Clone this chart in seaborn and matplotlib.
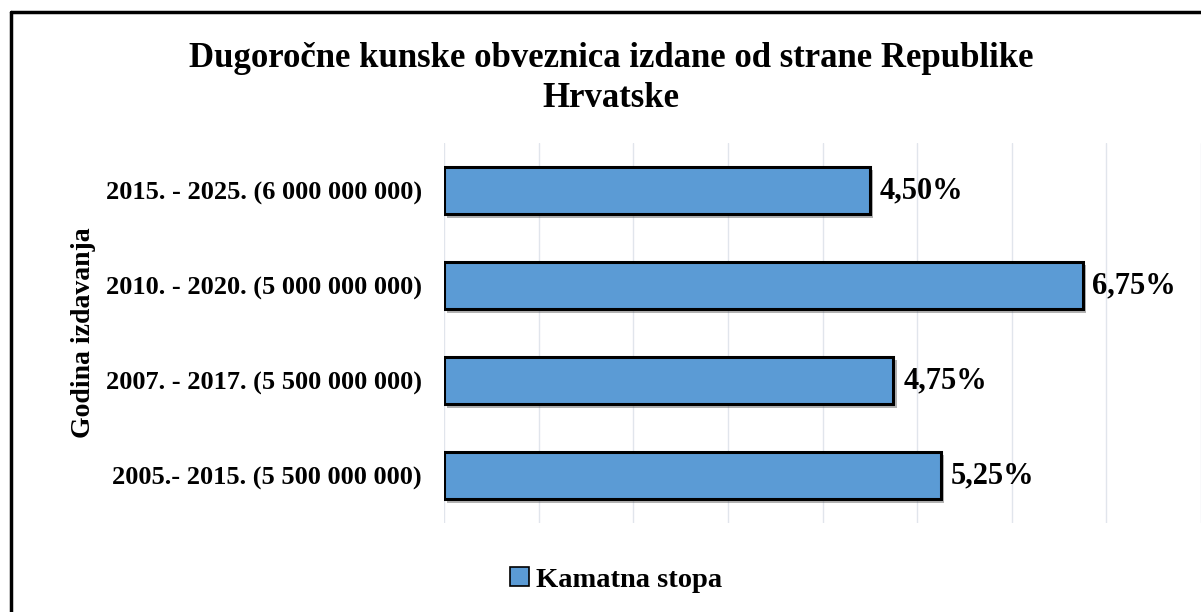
import matplotlib.pyplot as plt
import matplotlib.patheffects as pe
import pandas as pd
import seaborn as sns
from matplotlib.lines import Line2D
from matplotlib.patches import Patch

PERIODS = [
    "2015. - 2025. (6 000 000 000)",
    "2010. - 2020. (5 000 000 000)",
    "2007. - 2017. (5 500 000 000)",
    "2005.- 2015. (5 500 000 000)",
]
RATES = [4.50, 6.75, 4.75, 5.25]
RATE_LABELS = ["4,50%", "6,75%", "4,75%", "5,25%"]

TITLE = "Dugoročne kunske obveznica izdane od strane Republike\nHrvatske"
SERIES = "Kamatna stopa"
BAR_COLOR = "#5B9BD5"


def main() -> None:
    df = pd.DataFrame({"period": PERIODS, "rate": RATES})

    sns.set_style("white")
    plt.rcParams["font.family"] = ["Liberation Serif", "DejaVu Serif"]
    plt.rcParams["font.weight"] = "bold"
    plt.rcParams["text.color"] = "black"
    plt.rcParams["axes.labelcolor"] = "black"
    plt.rcParams["ytick.color"] = "black"

    fig = plt.figure(figsize=(12.01, 6.12), dpi=100)
    ax = fig.add_axes([0.3697, 0.1454, 0.6303, 0.6209])

    sns.barplot(data=df, x="rate", y="period", orient="h", color=BAR_COLOR,
                width=0.5, edgecolor="black", linewidth=2.2, saturation=1, ax=ax)

    # drop shadow like the office chart
    for bar in ax.patches:
        bar.set_path_effects([
            pe.SimplePatchShadow(offset=(2.5, -2.5), shadow_rgbFace="#555555", alpha=0.45),
            pe.Normal(),
        ])

    ax.bar_label(ax.containers[0], labels=RATE_LABELS, padding=7,
                 fontsize=22, fontweight="bold", color="black")

    ax.set_xlim(0, 8)
    ax.set_ylim(3.5, -0.5)
    ax.set_xticks(range(0, 9))
    ax.set_xticklabels([])
    ax.tick_params(axis="x", length=0)
    ax.tick_params(axis="y", length=0, pad=16, labelsize=19)
    for lbl in ax.get_yticklabels():
        lbl.set_fontweight("bold")
    ax.grid(axis="x", color="#e1e5ec", linewidth=1)
    ax.set_axisbelow(True)
    for sp in ax.spines.values():
        sp.set_visible(False)

    ax.set_xlabel("")
    ax.set_ylabel("Godina izdavanja", fontsize=20, fontweight="bold", labelpad=7)

    fig.suptitle(TITLE, x=0.509, y=0.932, fontsize=25, fontweight="bold",
                 linespacing=1.3, va="top")

    handle = Patch(facecolor=BAR_COLOR, edgecolor="black", linewidth=1.2)
    fig.legend([handle], [SERIES], loc="center", bbox_to_anchor=(0.513, 0.052),
               frameon=False, prop={"size": 20.5, "weight": "bold"},
               handlelength=0.65, handleheight=0.65, handletextpad=0.25)

    # outer chart frame (only top and left edges visible)
    fig.add_artist(Line2D([0.009, 0.009], [0.0, 0.981], transform=fig.transFigure,
                          color="black", linewidth=2.5))
    fig.add_artist(Line2D([0.009, 1.0], [0.981, 0.981], transform=fig.transFigure,
                          color="black", linewidth=2.5))

    fig.savefig("out.png", dpi=100)


if __name__ == "__main__":
    main()
